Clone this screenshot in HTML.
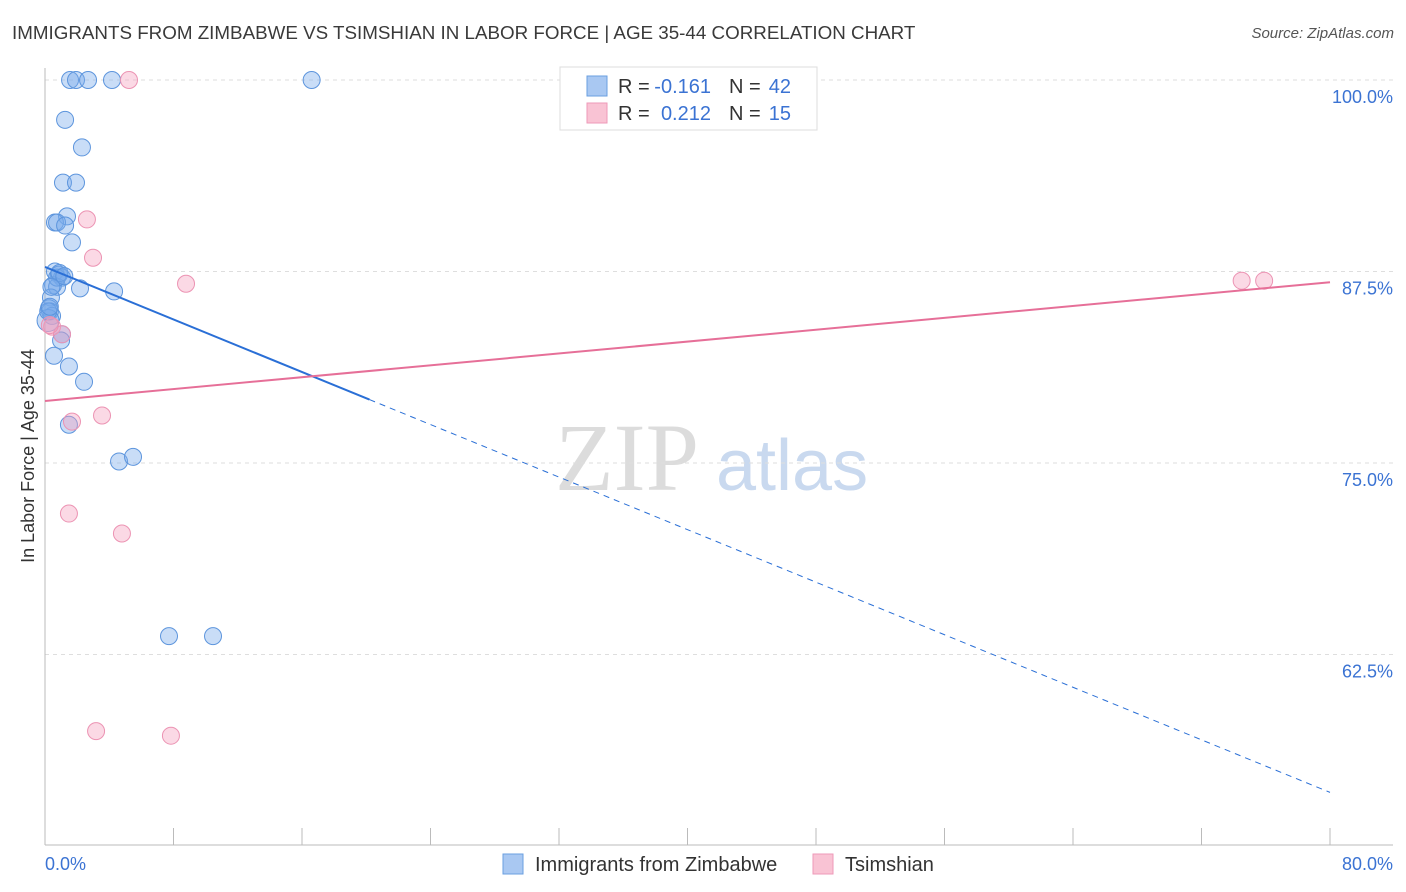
<!DOCTYPE html>
<html><head><meta charset="utf-8">
<style>
body{margin:0;background:#fff;font-family:"Liberation Sans",sans-serif;}
#wrap{position:relative;width:1406px;height:892px;overflow:hidden;}
.t{position:absolute;white-space:nowrap;}
</style></head>
<body>
<div id="wrap">
<div class="t" style="left:12px;top:22px;font-size:18.8px;color:#3a3a3a;">IMMIGRANTS FROM ZIMBABWE VS TSIMSHIAN IN LABOR FORCE | AGE 35-44 CORRELATION CHART</div>
<div class="t" style="right:12px;top:25px;font-size:15px;color:#555;font-style:italic;">Source: ZipAtlas.com</div>
<svg id="chart" width="1406" height="892" style="position:absolute;left:0;top:0"></svg>
</div>
<script>
const blueX=[1.56,1.93,2.68,4.17,16.6,1.25,2.30,1.12,1.93,1.37,0.62,0.75,1.25,1.68,0.62,0.87,1.06,0.50,0.75,2.18,4.30,0.37,0.25,0.31,0.44,0.19,1.06,1.00,0.56,1.49,2.43,1.49,4.61,5.48,7.72,10.46,0.75,0.2,0.9,0.4,1.2,0.3];
const blueY=[100,100,100,100,100,97.4,95.6,93.3,93.3,91.1,90.7,90.7,90.5,89.4,87.5,87.3,87.1,86.6,86.5,86.4,86.2,85.8,85.1,84.9,84.6,84.3,83.4,83.0,82.0,81.3,80.3,77.5,75.1,75.4,63.7,63.7,87.1,84.9,87.4,86.5,87.2,85.2];
const pinkX=[5.23,2.61,2.99,8.78,74.5,75.9,0.44,1.06,3.55,1.68,1.49,4.79,3.18,7.84,0.3];
const pinkY=[100,90.9,88.4,86.7,86.9,86.9,83.9,83.4,78.1,77.7,71.7,70.4,57.5,57.2,84.0];
const yTicks=[100,87.5,75,62.5];
const yTickLabels=["100.0%","87.5%","75.0%","62.5%"];
const blueTrend=[87.8,53.5];
const blueSolidEnd=20.2;
const pinkTrend=[79.05,86.8];

const NS="http://www.w3.org/2000/svg";
const svg=document.getElementById('chart');
const X=v=>45+v/80*1285;
const Y=v=>80+(100-v)*15.32;
function mk(tag,attrs,parent){const e=document.createElementNS(NS,tag);for(const k in attrs)e.setAttribute(k,attrs[k]);(parent||svg).appendChild(e);return e;}

let wm=mk('text',{x:555,y:490,'font-size':96,'font-family':'Liberation Serif,serif',fill:'#dcdcdc'});wm.textContent='ZIP';


let wm2=mk('text',{x:716,y:490,'font-size':72,'font-family':'Liberation Sans,sans-serif',fill:'#c9d9ef'});wm2.textContent='atlas';



yTicks.forEach((v,i)=>{
 const g=mk('line',{x1:45,x2:1393,y1:Y(v),y2:Y(v),stroke:'#dedede','stroke-dasharray':'4,4'});
 
 
 const t=mk('text',{x:1393,y:Y(v)+23,'text-anchor':'end','font-size':18,fill:'#3b73d3'});t.textContent=yTickLabels[i];
 
 
});
let ax=mk('line',{x1:45,x2:45,y1:68,y2:845,stroke:'#bbb'});


let bx=mk('line',{x1:45,x2:1393,y1:845,y2:845,stroke:'#bbb'});


for(let i=0;i<=10;i++){const l=mk('line',{x1:X(i*8),x2:X(i*8),y1:828,y2:845,stroke:'#bbb'});
 
 }
let xl=mk('text',{x:45,y:870,'font-size':18,fill:'#3b73d3'});xl.textContent='0.0%';


let xr=mk('text',{x:1393,y:870,'text-anchor':'end','font-size':18,fill:'#3b73d3'});xr.textContent='80.0%';


let yt=mk('text',{x:34,y:456,'text-anchor':'middle','font-size':18,fill:'#333',transform:'rotate(-90 34 456)'});yt.textContent='In Labor Force | Age 35-44';



blueX.forEach((x,i)=>{const c=mk('circle',{cx:X(x),cy:Y(blueY[i]),r:(i==25?11:8.5),fill:'rgba(120,170,235,0.4)',stroke:'#5d95dd','stroke-width':1});
 
 });
pinkX.forEach((x,i)=>{const c=mk('circle',{cx:X(x),cy:Y(pinkY[i]),r:8.5,fill:'rgba(245,160,190,0.4)',stroke:'#ec93b3','stroke-width':1});
 
 });

const by=x=>blueTrend[0]+(blueTrend[1]-blueTrend[0])*x/80;
let b1=mk('line',{x1:X(0),y1:Y(by(0)),x2:X(blueSolidEnd),y2:Y(by(blueSolidEnd)),stroke:'#2a6fd6','stroke-width':2});


let b2=mk('line',{x1:X(blueSolidEnd),y1:Y(by(blueSolidEnd)),x2:X(80),y2:Y(by(80)),stroke:'#2a6fd6','stroke-width':1,'stroke-dasharray':'6,5'});


let p1=mk('line',{x1:X(0),y1:Y(pinkTrend[0]),x2:X(80),y2:Y(pinkTrend[1]),stroke:'#e66f98','stroke-width':2});



let lb=mk('rect',{x:560,y:67,width:257,height:63,fill:'#fff',stroke:'#ddd'});


const rows=[['#a9c8f2','#6a9fe0','-0.161','42',86],['#f9c3d4','#ee9ab8','0.212','15',113]];
rows.forEach(r=>{
 const s=mk('rect',{x:587,y:r[4]-10,width:20,height:20,fill:r[0],stroke:r[1]});
 
 
 const parts=[[618,'R =','#333','start'],[711,r[2],'#3b73d3','end'],[729,'N =','#333','start'],[791,r[3],'#3b73d3','end']];
 parts.forEach(p=>{
  const t=mk('text',{x:p[0],y:r[4]+7,'font-size':20,fill:p[2],'text-anchor':p[3]});t.textContent=p[1];
  
  
 });
});
[[503,'#a9c8f2','#6a9fe0','Immigrants from Zimbabwe','legend-zimbabwe'],[813,'#f9c3d4','#ee9ab8','Tsimshian','legend-tsimshian']].forEach(l=>{
 const s=mk('rect',{x:l[0],y:854,width:20,height:20,fill:l[1],stroke:l[2]});
 
 
 const t=mk('text',{x:l[0]+32,y:871,'font-size':20,fill:'#333'});t.textContent=l[3];
 
 
});
</script>
</body></html>
